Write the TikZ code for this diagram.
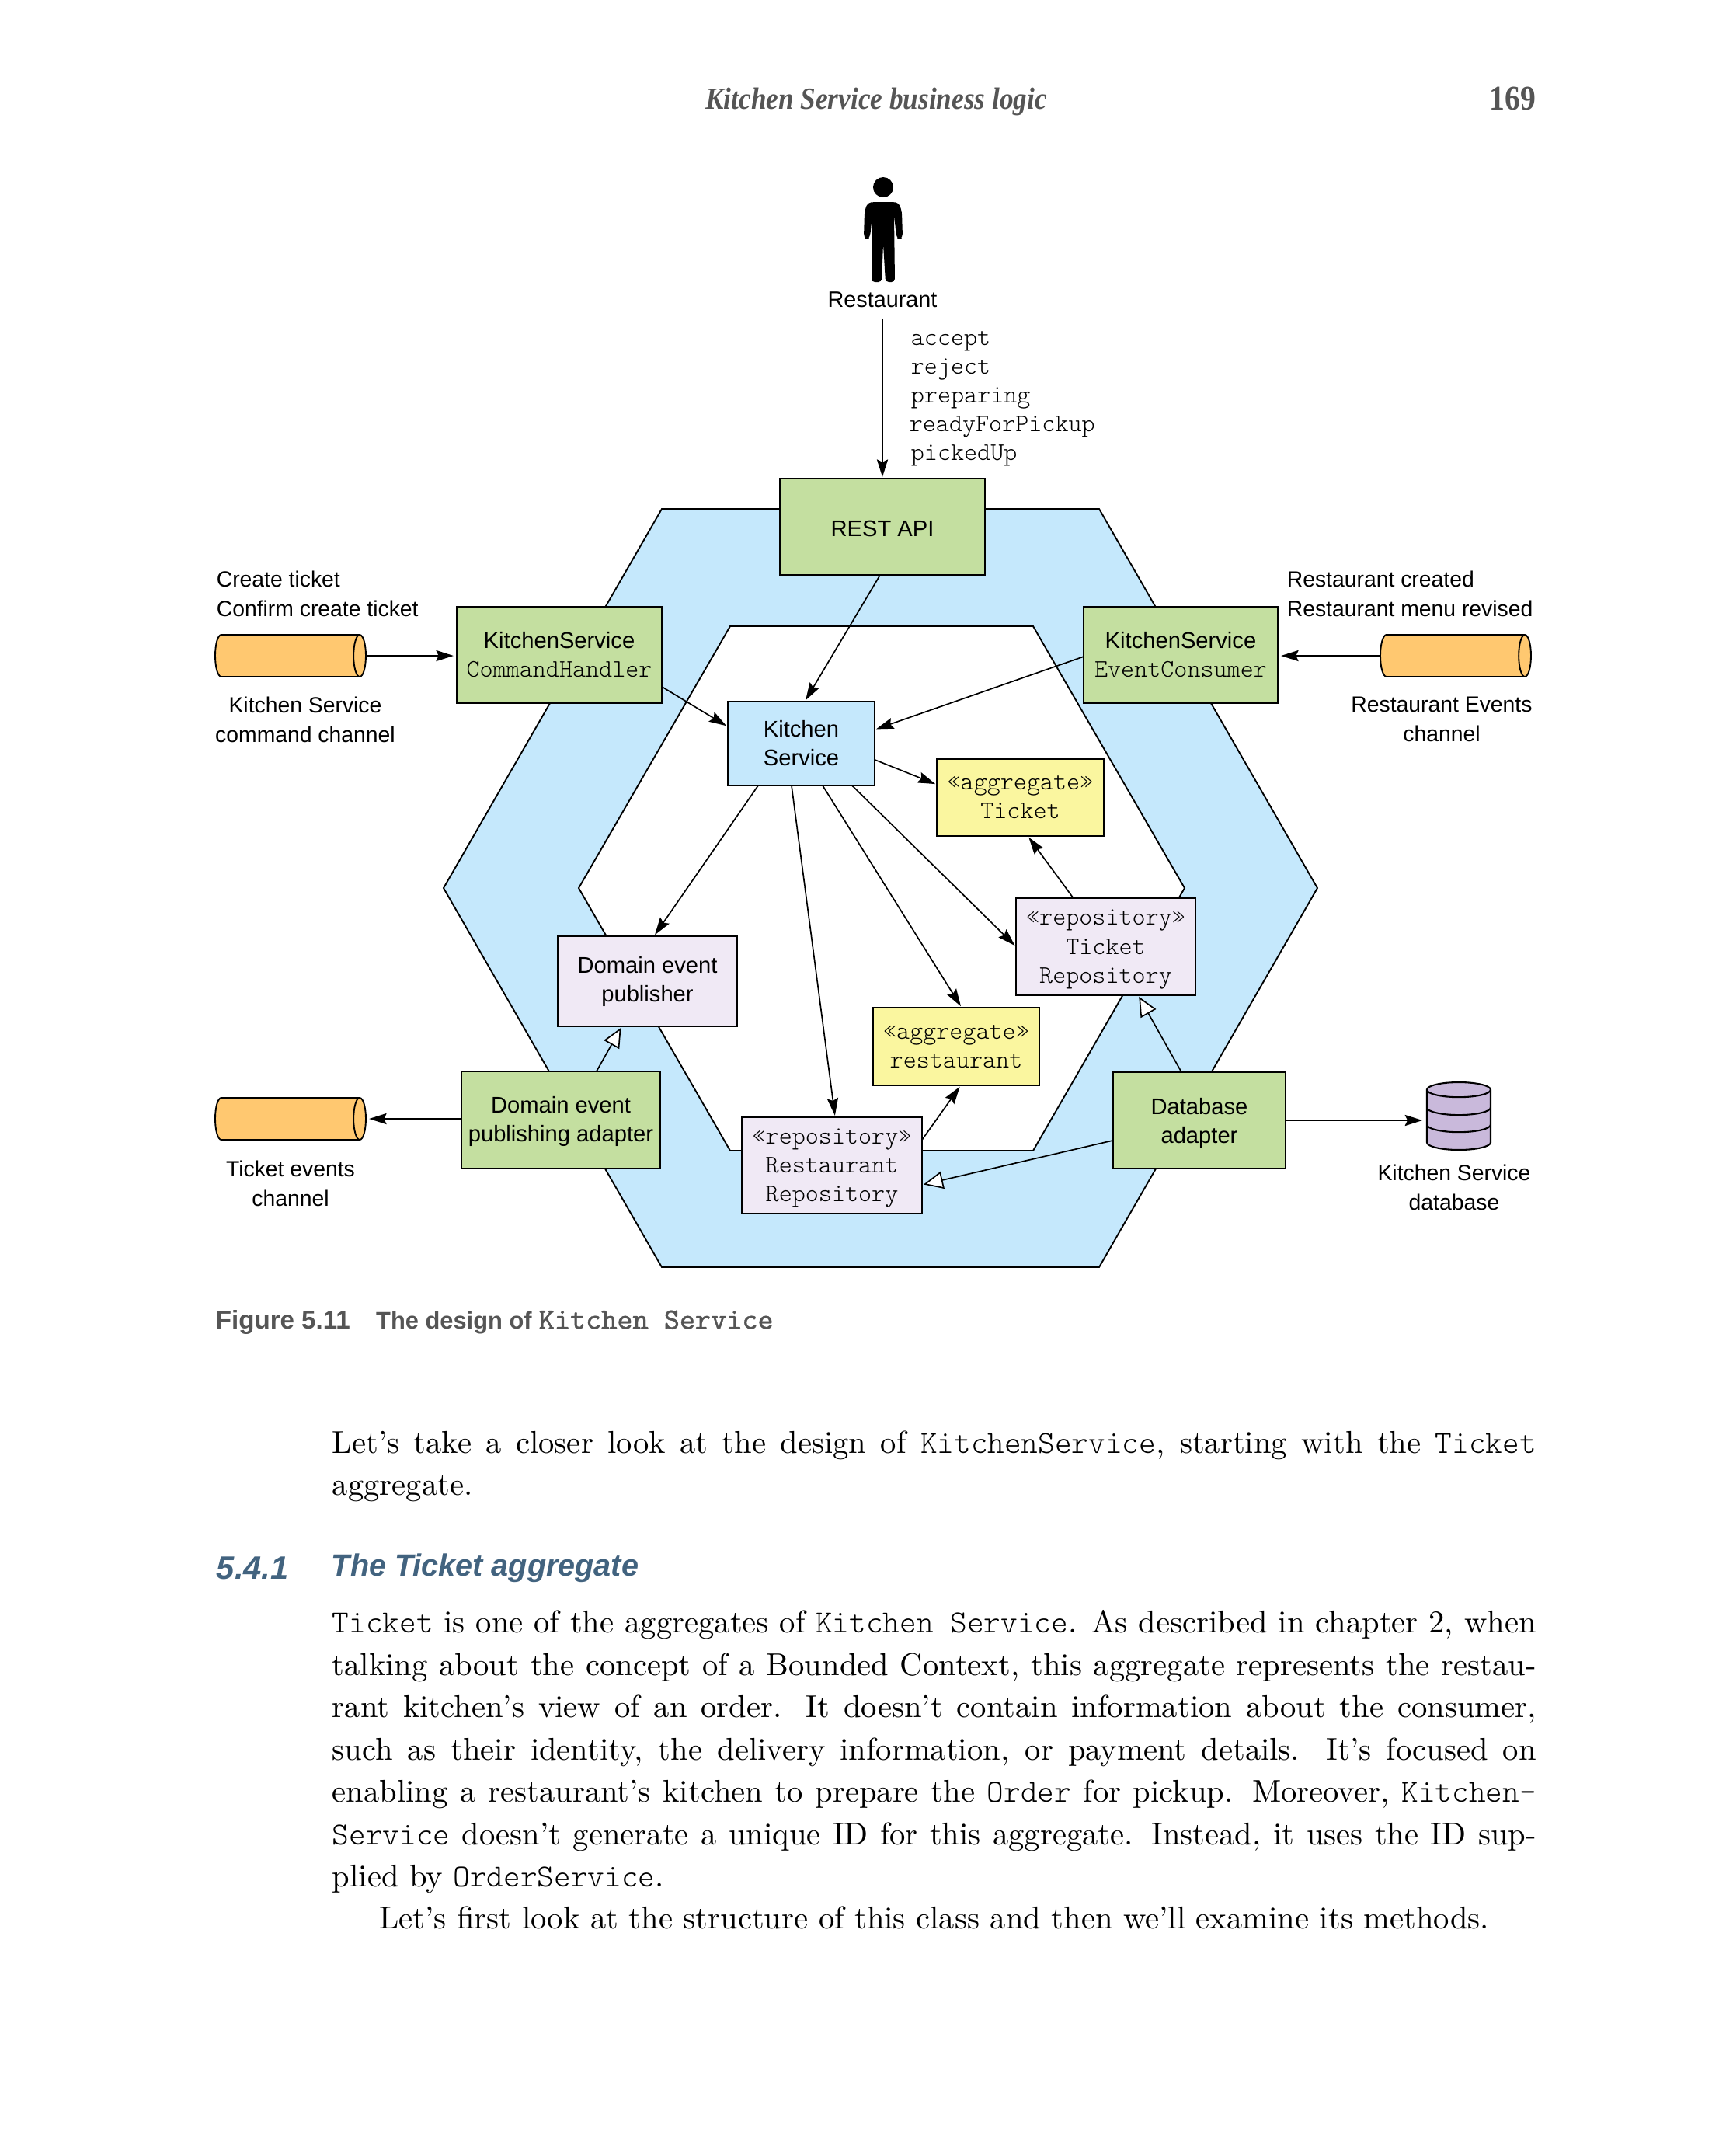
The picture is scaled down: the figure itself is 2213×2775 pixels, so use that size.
\documentclass[tikz,border=0pt]{standalone}
\usepackage{fontspec}
\setsansfont{Liberation Sans}
\setmonofont{Latin Modern Mono Light}
\newfontfamily\headfont[FakeStretch=0.89]{Liberation Serif}
\newfontfamily\capmono[FakeBold=0.8]{Latin Modern Mono}
\usetikzlibrary{arrows.meta}
\definecolor{hexblue}{HTML}{C5E8FC}
\definecolor{boxgreen}{HTML}{C4DFA0}
\definecolor{boxlilac}{HTML}{F0E9F5}
\definecolor{boxyellow}{HTML}{FAF69F}
\definecolor{pipeorange}{HTML}{FFC870}
\definecolor{storelilac}{HTML}{C9B9DB}
\definecolor{headgray}{HTML}{555555}
\definecolor{secblue}{HTML}{42637F}
\newcommand{\fig}[1]{{\ttfamily\fontsize{7.8}{8.9}\selectfont #1}}
\newcommand{\tc}[1]{{\ttfamily\fontsize{9.9}{13.06}\selectfont #1}}
\tikzset{
  wh/.style 2 args={minimum width=#1*0.24pt,minimum height=#2*0.24pt},
  sink/.style={execute at begin node=\rule{0pt}{#1}},
  label/.style={font=\sffamily\fontsize{6.8}{9.1}\selectfont,align=center,inner sep=0pt},
  box/.style={draw,line width=0.48pt,inner sep=0pt,outer sep=0pt,align=center,
    font=\sffamily\fontsize{7}{8.9}\selectfont},
  boxtext/.style={inner sep=0pt,align=center,font=\sffamily\fontsize{7}{8.9}\selectfont},
  mono/.style={font=\ttfamily\fontsize{7.8}{8.9}\selectfont},
  call/.style={-{Stealth[inset=0.8pt,length=5.4pt,width=3.4pt]},line width=0.4pt,shorten >=0.5pt},
  impl/.style={-{Triangle[open,fill=white,length=6pt,width=5.4pt]},line width=0.4pt,shorten >=0.5pt},
  body/.style={anchor=north west,inner sep=0pt,text width=372pt,align=justify,font=\fontsize{9.75}{13.06}\selectfont},
  sec/.style={anchor=west,inner sep=0pt,text=secblue,font=\sffamily\bfseries\itshape\fontsize{9.5}{12}\selectfont}
}
\begin{document}
\begin{tikzpicture}[x=0.24pt,y=-0.24pt]
  \useasboundingbox (0,0) rectangle (2213,2775);

  % running head
  \node[inner sep=0pt,text=headgray,font=\headfont\bfseries\itshape\fontsize{9.5}{12}\selectfont] (head) at (1128,131) {Kitchen Service business logic};
  \node[anchor=east,inner sep=0pt,text=headgray,font=\headfont\bfseries\fontsize{10.7}{13}\selectfont] (page) at (1978,127) {169};

  % hexagon
  \draw[line width=0.45pt,fill=hexblue,even odd rule]
    (571,1143) -- (852,655) -- (1415,655) -- (1696,1143) -- (1415,1631) -- (852,1631) -- cycle
    (745,1143) -- (940,806) -- (1330,806) -- (1525,1143) -- (1330,1481) -- (940,1481) -- cycle;

  % person
  \fill (1137,241) circle (13);
  \fill[rounded corners=1pt] (1125,260) -- (1150,260) -- (1157,261) -- (1161,272) -- (1162,305)
    -- (1158,309) -- (1154,305) -- (1151,276) -- (1152,363) -- (1140,363) -- (1137,314)
    -- (1135,363) -- (1122,363) -- (1123,276) -- (1120,305) -- (1116,309) -- (1112,305)
    -- (1113,272) -- (1117,261) -- cycle;
  \node[label,font=\sffamily\fontsize{6.9}{9.1}\selectfont] (actor) at (1136,386) {Restaurant};
  \node[mono,inner sep=0pt,align=left,anchor=west] (ops) at (1170,513) {\hspace{0.5pt}accept\\\hspace{0.5pt}reject\\\hspace{0.5pt}preparing\\readyForPickup\\\hspace{0.5pt}pickedUp};

  % boxes
  \node[box,sink=6.1pt,fill=boxgreen,wh={264}{124}] (rest) at (1136,678) {REST API};
  \node[box,fill=boxgreen,wh={264}{124}] (cmd) at (720,843) {KitchenService\\\fig{CommandHandler}};
  \node[box,fill=boxgreen,wh={250}{124}] (cons) at (1520,843) {KitchenService\\\fig{EventConsumer}};
  \node[box,fill=hexblue,wh={189}{108}] (svc) at (1031.5,957) {Kitchen\\Service};
  \node[box,mono,fill=boxyellow,wh={215}{99}] (aggt) at (1313.5,1026.5) {«aggregate»\\Ticket};
  \node[box,fill=boxlilac,wh={231}{125}] (trepo) at (1423.5,1218.5) {};
  \node[boxtext,mono] (trepotxt) at ([yshift=-0.85pt]trepo.center) {«repository»\\Ticket\\Repository};
  \node[box,fill=boxlilac,wh={231}{116}] (pub) at (833.5,1263) {Domain event\\publisher};
  \node[box,mono,fill=boxyellow,wh={214}{100}] (aggr) at (1231,1347) {«aggregate»\\restaurant};
  \node[box,fill=boxgreen,wh={256}{125}] (adp) at (722,1441.5) {};
  \node[boxtext] (adptxt) at ([yshift=-0.43pt]adp.center) {Domain event\\publishing adapter};
  \node[box,fill=boxlilac,wh={232}{124}] (rrepo) at (1071,1500) {};
  \node[boxtext,mono] (rrepotxt) at ([yshift=-0.85pt]rrepo.center) {«repository»\\Restaurant\\Repository};
  \node[box,fill=boxgreen,wh={222}{124}] (dba) at (1544,1442) {};
  \node[boxtext] (dbatxt) at ([yshift=-0.85pt]dba.center) {Database\\adapter};

  % channels and database
  \foreach \nm/\cx/\cy in {cmdch/374/844, evch/1874/844, tkch/374/1440} {
    \node[wh={194}{54},inner sep=0pt,outer sep=0pt] (\nm) at (\cx,\cy) {};
    \draw[line width=0.45pt,fill=pipeorange] ([xshift=1.9pt]\nm.north west) -- ([xshift=-1.9pt]\nm.north east)
      arc[start angle=90,end angle=-90,x radius=1.9pt,y radius=6.48pt]
      -- ([xshift=1.9pt]\nm.south west)
      arc[start angle=270,end angle=90,x radius=1.9pt,y radius=6.48pt] -- cycle;
    \draw[line width=0.45pt] ([xshift=-1.9pt]\nm.north east)
      arc[start angle=90,end angle=270,x radius=1.9pt,y radius=6.48pt];
  }
  \node[wh={82}{87},inner sep=0pt,outer sep=0pt] (store) at (1878,1436.5) {};
  \draw[line width=0.5pt,fill=storelilac] ([yshift=-2.3pt]store.north west) -- ([yshift=2.3pt]store.south west)
    arc[start angle=180,end angle=360,x radius=9.84pt,y radius=2.3pt]
    -- ([yshift=-2.3pt]store.north east)
    arc[start angle=0,end angle=180,x radius=9.84pt,y radius=2.3pt] -- cycle;
  \foreach \dn in {2.3,7.8,13.1}
    \draw[line width=0.5pt] ([yshift=-\dn pt]store.north west)
      arc[start angle=180,end angle=360,x radius=9.84pt,y radius=2.3pt];

  \node[label,anchor=west,align=left] (cmdtxt) at (278,764) {Create ticket\\Confirm create ticket};
  \node[label] (cmdname) at (393,926) {Kitchen Service\\command channel};
  \node[label,anchor=west,align=left] (evtxt) at (1656,764) {Restaurant created\\Restaurant menu revised};
  \node[label] (evname) at (1856,926) {Restaurant Events\\channel};
  \node[label] (tkname) at (374,1523) {Ticket events\\channel};
  \node[label] (dbname) at (1872,1528) {Kitchen Service\\database};

  % connectors
  \draw[call,shorten <=3.1pt] (actor.south) -- (rest.north);
  \draw[call] ([xshift=-0.7pt]rest.south) -- ([xshift=1.1pt]svc.north);
  \draw[call] ([yshift=-9.8pt]cmd.east) -- ([yshift=5.2pt]svc.west);
  \draw[call] ([yshift=-0.5pt]cons.west) -- ([yshift=4.3pt]svc.east);
  \draw[call] ([yshift=-5pt]svc.east) -- ([yshift=4pt]aggt.west);
  \draw[call] ([xshift=-13.3pt]svc.south) -- ([xshift=2pt]pub.north);
  \draw[call] ([xshift=-3pt]svc.south) -- ([xshift=1pt]rrepo.north);
  \draw[call] ([xshift=6.6pt]svc.south) -- ([xshift=1.7pt]aggr.north);
  \draw[call] ([xshift=15.7pt]svc.south) -- (trepo.west);
  \draw[call] ([xshift=-10pt]trepo.north) -- ([xshift=2.3pt]aggt.south);
  \draw[call] ([yshift=7.9pt]rrepo.east) -- ([xshift=1.4pt]aggr.south);
  \draw[impl] ([xshift=11pt]adp.north) -- ([xshift=-7.9pt]pub.south);
  \draw[impl] ([xshift=-5.5pt]dba.north) -- ([xshift=10pt]trepo.south);
  \draw[impl] ([yshift=-6.2pt]dba.west) -- ([yshift=-6pt]rrepo.east);
  \draw[call,shorten >=1.4pt] (dba.east) -- (store.west |- dba.east);
  \draw[call,shorten >=1pt] (adp.west |- tkch.east) -- (tkch.east);
  \draw[call,shorten >=1pt] (cmdch.east) -- (cmd.west |- cmdch.east);
  \draw[call,shorten >=1pt] (evch.west) -- (cons.east |- evch.west);

  % page text
  \node[anchor=west,inner sep=0pt,text=headgray,font=\sffamily\bfseries\fontsize{7.95}{10}\selectfont] (cap) at (277,1702)
    {Figure 5.11\hspace{8pt}{\fontsize{7.4}{10}\selectfont The design of} {\capmono\fontsize{9.2}{10}\selectfont Kitchen Service}};
  \node[body] (lead) at (427,1841) {
    Let’s take a closer look at the design of \tc{KitchenService}, starting with the \tc{Ticket}\linebreak
    aggregate.\par};
  \node[sec] (secno) at (278,2018) {\fontsize{10}{12}\selectfont 5.4.1};
  \node[sec] (sectitle) at (426,2018) {The Ticket aggregate};
  \node[body] (para) at (427,2072) {
    \tc{Ticket} is one of the aggregates of \tc{Kitchen Service}. As described in chapter 2, when\linebreak
    talking about the concept of a Bounded Context, this aggregate represents the restau-\linebreak
    rant kitchen’s view of an order. It doesn’t contain information about the consumer,\linebreak
    such as their identity, the delivery information, or payment details. It’s focused on\linebreak
    enabling a restaurant’s kitchen to prepare the \tc{Order} for pickup. Moreover, \tc{Kitchen-}\linebreak
    \tc{Service} doesn’t generate a unique ID for this aggregate. Instead, it uses the ID sup-\linebreak
    plied by \tc{OrderService}.\par
    \hspace*{14.5pt}Let’s first look at the structure of this class and then we’ll examine its methods.\par};
\end{tikzpicture}
\end{document}
